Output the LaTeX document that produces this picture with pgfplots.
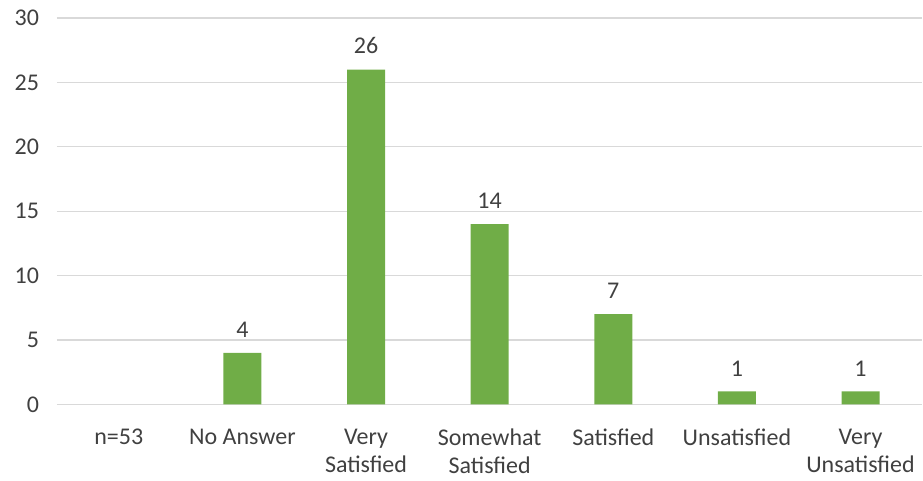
\documentclass[border=0pt]{standalone}
\usepackage{pgfplots}
\pgfplotsset{compat=1.18}
\usepackage{fontspec}
\setmainfont{Carlito}
\definecolor{bargreen}{HTML}{70AD47}
\definecolor{gridgray}{HTML}{D9D9D9}
\definecolor{labgray}{HTML}{404040}
\definecolor{valgray}{HTML}{404040}
\begin{document}
\begin{tikzpicture}
\begin{axis}[
  scale only axis,
  width=649.5pt, height=290pt,
  xmin=-0.5, xmax=6.5,
  ymin=0, ymax=30,
  ytick={0,5,...,30},
  xtick={0,...,6},
  xticklabels={n=53,No Answer,Very\\Satisfied,Somewhat\\Satisfied,Satisfied,Unsatisfied,Very\\Unsatisfied},
  xticklabel style={align=center, text=labgray, font=\fontsize{18}{21}\selectfont, anchor=north, yshift=-15pt},
  yticklabel style={text=labgray, font=\fontsize{18}{21}\selectfont, xshift=-10pt},
  /pgf/number format/assume math mode=true,
  axis line style={draw=none},
  major tick length=0pt,
  ymajorgrids,
  grid style={gridgray, line width=1pt},
  ybar,
  bar width=28.5pt,
  nodes near coords,
  nodes near coords style={text=valgray, font=\fontsize{18}{21}\selectfont, yshift=8pt},
  clip=false,
]
\addplot[fill=bargreen, draw=none] coordinates {(1,4) (2,26) (3,14) (4,7) (5,1) (6,1)};
\end{axis}
\path[use as bounding box] ([xshift=-42.75pt, yshift=13.5pt]current axis.north west) rectangle ([yshift=-57pt]current axis.south east);
\end{tikzpicture}
\end{document}
